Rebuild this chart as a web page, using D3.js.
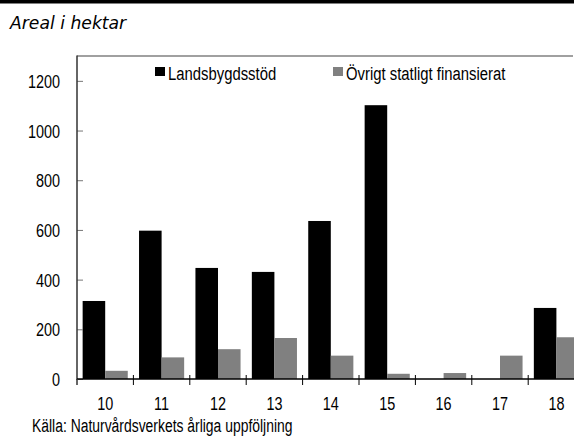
<!DOCTYPE html>
<html><head><meta charset="utf-8">
<script src="https://cdn.jsdelivr.net/npm/d3@7"></script>
<style>body{margin:0;background:#fff}svg{display:block}</style>
</head><body>
<svg id="c" width="574" height="436"></svg>
<script>
const categories = ["10","11","12","13","14","15","16","17","18"];
const landsbygdsstod = [314, 597, 447, 431, 636, 1102, 0, 0, 286];
const ovrigt = [33, 87, 120, 165, 94, 21, 24, 94, 168];
const yTicks = [0, 200, 400, 600, 800, 1000, 1200];
const seriesNames = ["Landsbygdsstöd", "Övrigt statligt finansierat"];
const seriesColors = ["#000000", "#808080"];

const narrow = "'Liberation Sans',Arial,sans-serif";
const SX = 0.79;
const svg = d3.select("#c");
const W = 574, plotLeft = 77, plotTop = 56, plotBottom = 379, bandW = 56.4;

function ntext(g, xx, yy, str, anchor, size, sx) {
  return g.append("text")
    .attr("transform", `translate(${xx},${yy}) scale(${sx || SX},1)`)
    .attr("text-anchor", anchor).attr("font-family", narrow)
    .attr("font-size", size).attr("fill", "#000").text(str);
}

svg.append("rect").attr("x",0).attr("y",0).attr("width",W).attr("height",3.5).attr("fill","#000");
svg.append("text").attr("x",10).attr("y",29).attr("font-family","'DejaVu Sans',sans-serif")
  .attr("font-style","italic").attr("font-size",17.2).attr("fill","#000").text("Areal i hektar");

const x = d3.scaleBand().domain(categories).range([plotLeft, plotLeft + bandW*categories.length]).padding(0);
const y = d3.scaleLinear().domain([0,1300]).range([plotBottom, plotTop]);

svg.append("line").attr("x1",plotLeft).attr("x2",573).attr("y1",plotTop).attr("y2",plotTop)
  .attr("stroke","#808080").attr("stroke-width",1.5);

const series = [landsbygdsstod, ovrigt];
series.forEach((vals, si) => {
  svg.append("g").selectAll("rect").data(categories).join("rect")
    .attr("x", d => x(d) + x.bandwidth()*(0.1 + 0.4*si))
    .attr("width", x.bandwidth()*0.4)
    .attr("y", (d,i) => y(vals[i]))
    .attr("height", (d,i) => plotBottom - y(vals[i]))
    .attr("fill", seriesColors[si]);
});

const yAxis = d3.axisRight(y).tickValues(yTicks).tickSize(6).tickFormat("");
const gy = svg.append("g").attr("transform",`translate(${plotLeft},0)`).call(yAxis);
gy.select(".domain").remove();
gy.selectAll(".tick line").attr("stroke","#777").attr("stroke-width",1);
svg.append("line").attr("x1",plotLeft).attr("x2",plotLeft).attr("y1",plotTop-0.5).attr("y2",plotBottom+1)
  .attr("stroke","#333").attr("stroke-width",1.5);
const gyl = svg.append("g");
yTicks.forEach(t => ntext(gyl, 60, y(t) + 7, String(t), "end", 19, 0.76));

svg.append("line").attr("x1",plotLeft).attr("x2",W).attr("y1",plotBottom).attr("y2",plotBottom)
  .attr("stroke","#000").attr("stroke-width",1.5);
svg.append("g").selectAll("line").data(categories).join("line")
  .attr("x1", d => x(d) + x.bandwidth()).attr("x2", d => x(d) + x.bandwidth())
  .attr("y1", plotBottom - 4).attr("y2", plotBottom + 6).attr("stroke","#000").attr("stroke-width",1);
svg.append("line").attr("x1",plotLeft).attr("x2",plotLeft).attr("y1",plotBottom).attr("y2",plotBottom+6)
  .attr("stroke","#333").attr("stroke-width",1.5);
const gxl = svg.append("g");
categories.forEach(c => ntext(gxl, x(c) + x.bandwidth()/2, 410, c, "middle", 19, 0.76));

const legX = [155, 333];
const gl = svg.append("g");
seriesNames.forEach((n, i) => {
  gl.append("rect").attr("x", legX[i]).attr("y", 67).attr("width", 10).attr("height", 9).attr("fill", seriesColors[i]);
  ntext(gl, legX[i] + 13, 80, n, "start", 18.8);
});

ntext(svg, 32, 432, "Källa: Naturvårdsverkets årliga uppföljning", "start", 17.6);
</script>
</body></html>
